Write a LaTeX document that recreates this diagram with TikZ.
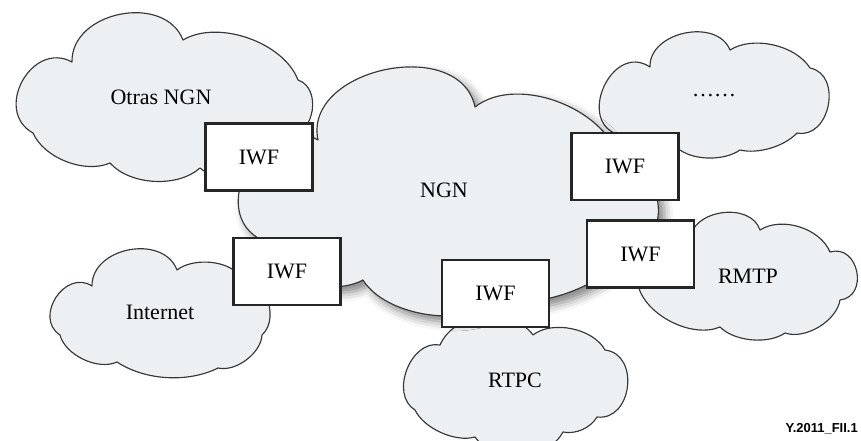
\documentclass[tikz,border=0pt]{standalone}
\usepackage{fontspec}
\setmainfont{Liberation Serif}
\newfontfamily\idfont{Liberation Sans}
\usetikzlibrary{shadows.blur}
\definecolor{cloudfill}{RGB}{237,240,243}
\definecolor{cloudline}{RGB}{55,55,55}
\begin{document}
\begin{tikzpicture}[x=1pt,y=-1pt,
  cloud/.style={draw=cloudline, fill=cloudfill, line width=1.15pt, line join=round},
  lobe/.style 2 args={bend left=#1, looseness=#2},
  iwf/.style={draw=black!85, line width=2.2pt, fill=white, minimum width=107pt, minimum height=67pt, inner sep=0pt, font=\fontsize{22}{24}\selectfont},
  lbl/.style={font=\fontsize{22}{24}\selectfont, inner sep=0pt, anchor=base},
  ]
\useasboundingbox (0,0) rectangle (861,441);
% Otras NGN cloud
\path[cloud] (72,62) to[lobe={80}{1.15}] (183,40) to[lobe={50}{0.85}] (298,80) to[lobe={80}{1.15}] (290,135) to[lobe={60}{1}] (200,168) to[lobe={45}{0.85}] (110,163) to[lobe={45}{0.85}] (33,133) to[lobe={90}{1.45}] (72,62) -- cycle;
% dots cloud
\path[cloud] (650,67) to[lobe={80}{1.1}] (730,50) to[lobe={45}{0.85}] (810,68) to[lobe={90}{1.3}] (797,133) to[lobe={30}{0.8}] (740,150) to[lobe={35}{0.8}] (680,150) to[lobe={30}{0.8}] (620,135) to[lobe={100}{1.6}] (650,67) -- cycle;
% RMTP cloud
\path[cloud] (690,240) to[lobe={80}{1.1}] (760,230) to[lobe={50}{0.9}] (830,252) to[lobe={95}{1.55}] (840,300) to[lobe={50}{0.85}] (785,333) to[lobe={40}{0.8}] (720,327) to[lobe={50}{0.85}] (638,285) to[lobe={60}{1}] (690,240) -- cycle;
% Internet cloud
\path[cloud] (92,286) to[lobe={80}{1.15}] (177,270) to[lobe={40}{0.8}] (236,272) to[lobe={70}{1}] (262,335) to[lobe={50}{0.85}] (218,368) to[lobe={30}{0.85}] (117,362) to[lobe={50}{0.85}] (60,335) to[lobe={90}{1.4}] (92,286) -- cycle;
% RTPC cloud
\path[cloud] (440,345) to[lobe={60}{1}] (533,335) to[lobe={50}{0.85}] (605,350) to[lobe={90}{1.35}] (597,417) to[lobe={35}{0.9}] (563,432) to[lobe={60}{0.9}] (475,437) to[lobe={40}{0.8}] (415,410) to[lobe={80}{1.1}] (440,345) -- cycle;
% NGN cloud
\path[cloud, blur shadow={shadow xshift=6pt, shadow yshift=-6pt, shadow blur radius=9pt, shadow opacity=50}] (318,140) to[lobe={90}{1.17}] (475,107) to[lobe={60}{0.9}] (620,165) to[lobe={90}{1.2}] (640,240) to[lobe={35}{0.8}] (500,300) to[lobe={50}{0.8}] (363,280) to[lobe={50}{0.9}] (258,238) to[lobe={90}{1.35}] (318,140) -- cycle;
% labels
\node[lbl] (otras) at (161,105) {Otras NGN};
\node[lbl] (ngn) at (444,197) {NGN};
\node[lbl] (dots) at (714,96) {……};
\node[lbl] (rmtp) at (748,283) {RMTP};
\node[lbl] (inet) at (160,319) {Internet};
\node[lbl] (rtpc) at (515,387) {RTPC};
% IWF boxes
\node[iwf] (w1) at (259,157) {IWF};
\node[iwf] (w2) at (287,271.5) {IWF};
\node[iwf] (w3) at (495.5,293.5) {IWF};
\node[iwf] (w4) at (625,166.5) {IWF};
\node[iwf] (w5) at (640.5,254) {IWF};
\node[font=\idfont\bfseries\fontsize{13}{15}\selectfont, anchor=base east, inner sep=0pt] (fig) at (858,432) {Y.2011\_FII.1};
\end{tikzpicture}
\end{document}
